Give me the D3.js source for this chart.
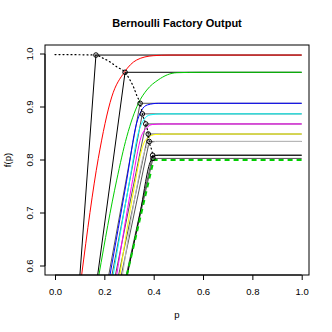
<!DOCTYPE html>
<html>
<head>
<meta charset="utf-8">
<script src="https://cdn.jsdelivr.net/npm/d3@7"></script>
<style>
  body { margin: 0; background: #fff; }
  text { font-family: "Liberation Sans", Arial, sans-serif; }
</style>
</head>
<body>
<script>
// corners of the piecewise-linear approximations (circles)
var cornerP = [0.166, 0.284, 0.345, 0.354, 0.368, 0.378, 0.382, 0.396, 0.397];
var cornerF = [0.998, 0.9655, 0.907, 0.887, 0.868, 0.849, 0.835, 0.809, 0.803];
// where each black line leaves the bottom of the plot (f = 0.583)
var lineBaseP = [0.101, 0.173, 0.218, 0.231, 0.245, 0.258, 0.269, 0.289, 0.291];
var baseF = 0.583;

// smooth polynomial outputs
var curveCols = ["red", "#00CD00", "blue", "cyan", "magenta", "yellow", "#BEBEBE", "black"];
var curves = [
  [[0.108,0.583],[0.1755,0.803],[0.230,0.919],[0.281,0.9655],[0.331,0.9887],[0.398,0.9968],[0.466,0.998],[1,0.998]],
  [[0.178,0.583],[0.250,0.762],[0.291,0.844],[0.338,0.907],[0.372,0.932],[0.418,0.951],[0.493,0.9647],[0.588,0.9655],[1,0.9655]],
  [[0.223,0.583],[0.290,0.760],[0.330,0.868],[0.350,0.893],[0.375,0.904],[0.420,0.907],[1,0.907]],
  [[0.236,0.583],[0.300,0.755],[0.340,0.855],[0.360,0.876],[0.385,0.885],[0.430,0.887],[1,0.887]],
  [[0.250,0.583],[0.310,0.750],[0.350,0.845],[0.370,0.860],[0.395,0.867],[0.440,0.868],[1,0.868]],
  [[0.263,0.583],[0.320,0.745],[0.360,0.832],[0.380,0.843],[0.405,0.848],[0.450,0.849],[1,0.849]],
  [[0.274,0.583],[0.330,0.745],[0.368,0.822],[0.388,0.831],[0.410,0.835],[0.450,0.835],[1,0.835]],
  [[0.293,0.583],[0.345,0.700],[0.385,0.795],[0.400,0.807],[0.420,0.809],[1,0.809]]
];
// dotted envelope through the corners
var envP = [0, 0.166, 0.195, 0.223, 0.251, 0.284, 0.304, 0.320, 0.332, 0.345, 0.354, 0.368, 0.378, 0.382, 0.396, 0.397];
var envF = [0.999, 0.998, 0.992, 0.985, 0.9755, 0.9655, 0.951, 0.936, 0.921, 0.907, 0.887, 0.868, 0.849, 0.835, 0.809, 0.803];
// target f(p) = min(2p, 0.8)
var targetP = [0.2915, 0.4, 1];
var targetF = [0.583, 0.8, 0.8];

var xTicks = [0, 0.2, 0.4, 0.6, 0.8, 1.0];
var yTicks = [0.6, 0.7, 0.8, 0.9, 1.0];

var W = 332, H = 332;
var box = {l: 45, r: 309, t: 45, b: 275};

var x = d3.scaleLinear().domain([0, 1]).range([55, 301.7]);
var y = d3.scaleLinear().domain([0.6, 1]).range([266, 54]);

var svg = d3.select("body").append("svg")
    .attr("width", W).attr("height", H);

svg.append("defs").append("clipPath").attr("id", "clip")
  .append("rect")
    .attr("x", box.l).attr("y", box.t)
    .attr("width", box.r - box.l).attr("height", box.b - box.t);

var plot = svg.append("g").attr("clip-path", "url(#clip)");

var line = d3.line().x(d => x(d[0])).y(d => y(d[1]));

// black piecewise-linear approximations
cornerP.forEach(function(p, i) {
  var pts = [[lineBaseP[i], baseF], [p, cornerF[i]], [1, cornerF[i]]];
  plot.append("path")
    .attr("d", line(pts))
    .attr("fill", "none")
    .attr("stroke", i < 2 ? "black" : "#555")
    .attr("stroke-width", 1);
});

// colored polynomials
var smooth = d3.line().x(d => x(d[0])).y(d => y(d[1])).curve(d3.curveMonotoneX);
curves.forEach(function(c, i) {
  plot.append("path")
    .attr("d", smooth(c))
    .attr("fill", "none")
    .attr("stroke", curveCols[i])
    .attr("stroke-width", 1);
});

// dotted envelope
plot.append("path")
  .attr("d", smooth(envP.map((p, i) => [p, envF[i]])))
  .attr("fill", "none")
  .attr("stroke", "black")
  .attr("stroke-width", 1.2)
  .attr("stroke-dasharray", "1,3")
  .attr("stroke-linecap", "round");

// target function
plot.append("path")
  .attr("d", line(targetP.map((p, i) => [p, targetF[i]])))
  .attr("fill", "none")
  .attr("stroke", "#00CD00")
  .attr("stroke-width", 2)
  .attr("stroke-dasharray", "5,4");

// corner circles
plot.selectAll("circle.corner")
  .data(cornerP)
  .enter().append("circle")
    .attr("class", "corner")
    .attr("cx", d => x(d))
    .attr("cy", (d, i) => y(cornerF[i]))
    .attr("r", 2.3)
    .attr("fill", "none")
    .attr("stroke", "black")
    .attr("stroke-width", 1);

// box
svg.append("rect")
  .attr("x", box.l).attr("y", box.t)
  .attr("width", box.r - box.l).attr("height", box.b - box.t)
  .attr("fill", "none").attr("stroke", "black").attr("stroke-width", 1);

// x axis
var xa = svg.append("g").attr("transform", "translate(0," + box.b + ")")
  .call(d3.axisBottom(x).tickValues(xTicks).tickFormat(d3.format(".1f")).tickSize(5).tickPadding(8));
xa.select(".domain").attr("d", "M" + x(0) + ",0H" + x(1));
xa.selectAll("text").attr("font-size", 9.5).attr("fill", "black")
  .style("font-family", "Liberation Sans, Arial, sans-serif");

// y axis
var ya = svg.append("g").attr("transform", "translate(" + box.l + ",0)")
  .call(d3.axisLeft(y).tickValues(yTicks).tickFormat(d3.format(".1f")).tickSize(5));
ya.select(".domain").attr("d", "M0," + y(0.6) + "V" + y(1));
ya.selectAll("text")
  .attr("font-size", 9.5).attr("fill", "black")
  .attr("x", null).attr("dy", null)
  .attr("text-anchor", "middle")
  .attr("transform", d => "translate(-12," + y(d) + ") rotate(-90)")
  .attr("y", 0)
  .style("font-family", "Liberation Sans, Arial, sans-serif");
ya.selectAll(".tick").attr("transform", null);
ya.selectAll(".tick line").attr("y1", d => y(d)).attr("y2", d => y(d));

// titles
svg.append("text")
  .attr("x", (box.l + box.r) / 2).attr("y", 27)
  .attr("text-anchor", "middle")
  .attr("font-size", 11).attr("font-weight", "bold")
  .text("Bernoulli Factory Output");
svg.append("text")
  .attr("x", (box.l + box.r) / 2).attr("y", 318)
  .attr("text-anchor", "middle")
  .attr("font-size", 9.5)
  .text("p");
svg.append("text")
  .attr("transform", "translate(11," + (box.t + box.b) / 2 + ") rotate(-90)")
  .attr("text-anchor", "middle")
  .attr("font-size", 9.5)
  .text("f(p)");
</script>
</body>
</html>
